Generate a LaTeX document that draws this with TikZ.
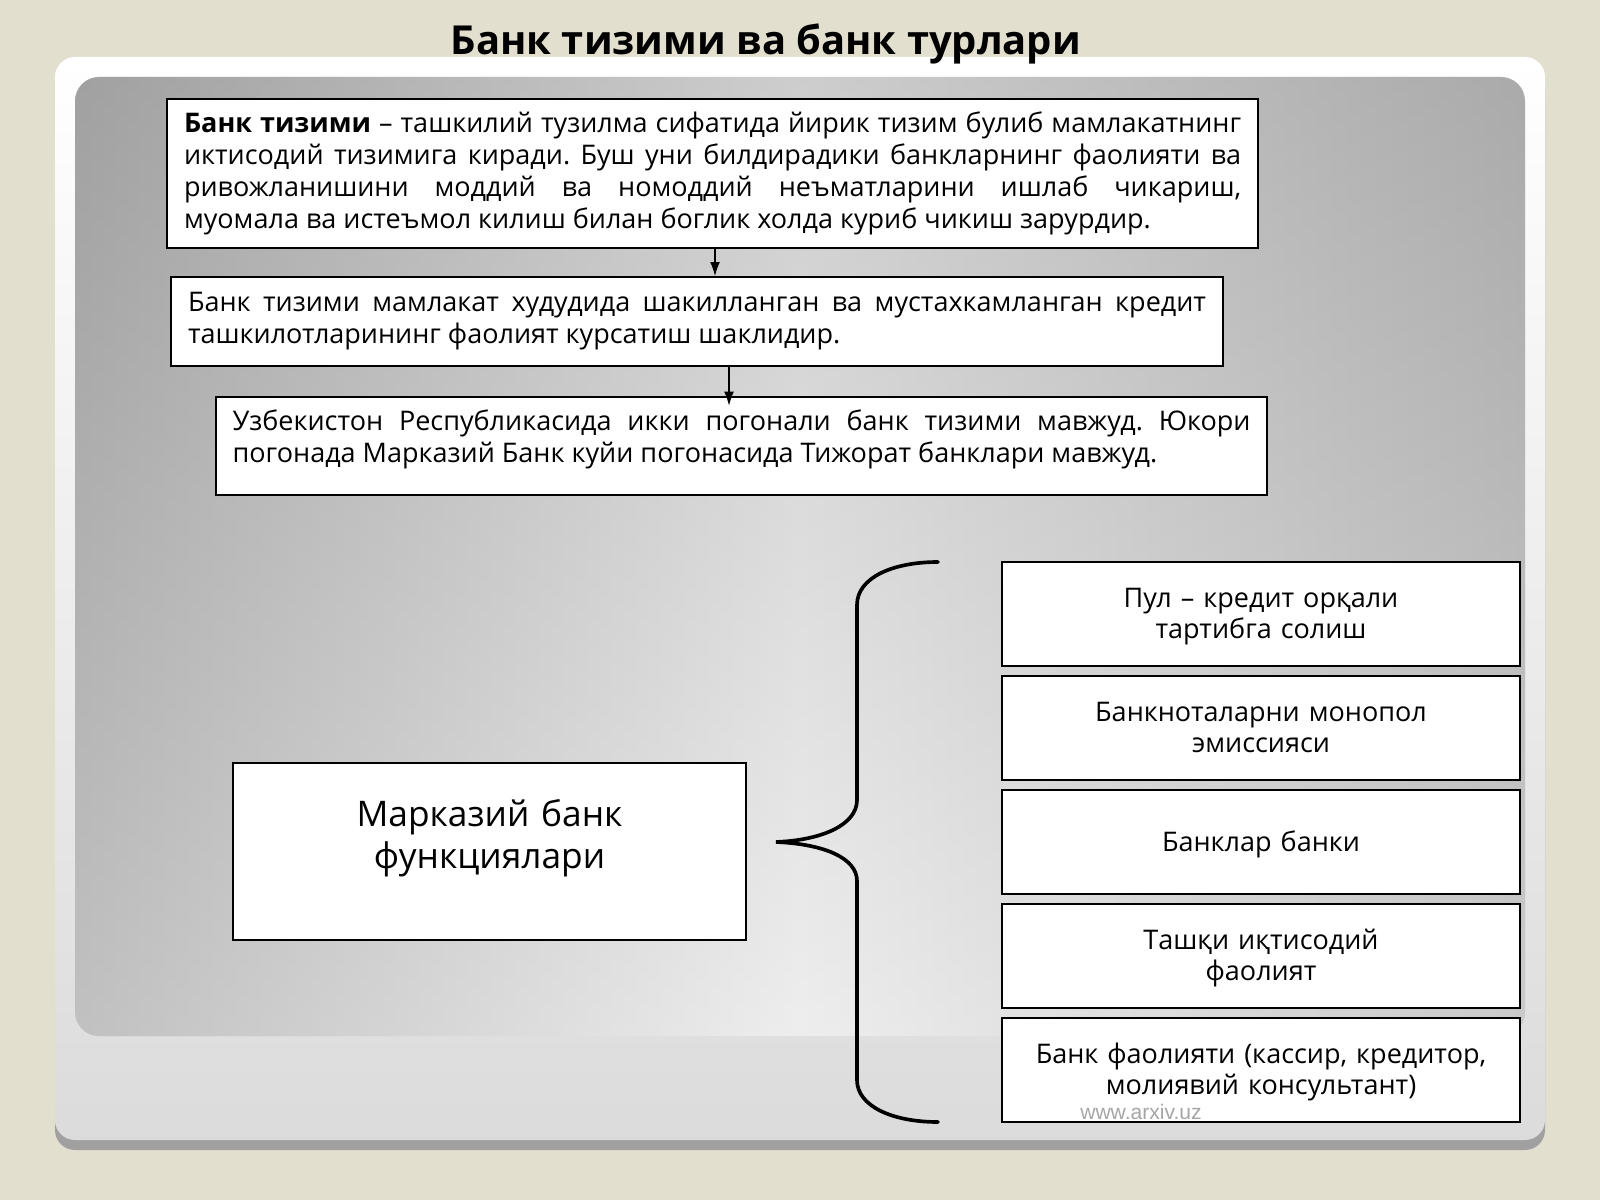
\documentclass[tikz,border=0pt]{standalone}
\usepackage{fontspec}
\setmainfont{Open Sans}
\newfontfamily\markfont{Liberation Sans}
\usetikzlibrary{arrows.meta}
\definecolor{pagebg}{RGB}{226,223,207}
\definecolor{ledge}{RGB}{160,160,160}
\tikzset{
  textbox/.style={draw, line width=1.3pt, fill=white, inner xsep=0.42cm, inner ysep=0pt, align=justify, font=\fontsize{19.2}{22.8}\selectfont},
  mainbox/.style={draw, line width=1.3pt, fill=white, text width=12cm, inner xsep=0.41cm, inner ysep=0pt, align=center, text height=1.575cm, text depth=2.85cm, font=\fontsize{25.1}{30.5}\selectfont},
  funcbox/.style={draw, line width=1.3pt, fill=white, text width=12.1cm, inner xsep=0.425cm, inner ysep=0pt, text height=1.125cm, text depth=1.475cm, align=center, font=\fontsize{19.2}{22.5}\selectfont},
  flow/.style={-{Latex[length=10pt,width=7pt]}, line width=0.9pt}
}

\begin{document}
\frenchspacing
\begin{tikzpicture}
\fill[pagebg] (0,0) rectangle (40,-30);
\useasboundingbox (0,0) rectangle (40,-30);
\fill[ledge, rounded corners=0.5cm] (1.375,-1.7) rectangle (38.625,-28.75);
\shade[top color=white, bottom color=gray!28, rounded corners=0.5cm] (1.375,-1.425) rectangle (38.625,-28.5);
\shade[left color=gray!65, right color=gray!55, middle color=gray!18, rounded corners=0.6cm] (1.875,-1.925) rectangle (38.125,-25.9);
\shade[top color=gray, bottom color=white, opacity=0.25, rounded corners=0.6cm] (1.875,-1.925) rectangle (38.125,-25.9);

\node[anchor=base, font=\fontsize{28.4}{32}\bfseries\selectfont] (title) at (19.15,-1.375) {Банк тизими ва банк турлари};

\node[textbox, text width=26.425cm, minimum height=3.725cm] (banktizimi) at (17.8125,-4.3375) {\textbf{Банк тизими} – ташкилий тузилма сифатида йирик тизим булиб мамлакатнинг\linebreak иктисодий тизимига киради. Буш уни билдирадики банкларнинг фаолияти ва\linebreak ривожланишини моддий ва номоддий неъматларини ишлаб чикариш,\linebreak муомала ва истеъмол килиш билан боглик холда куриб чикиш зарурдир.};
\node[textbox, text width=25.45cm, minimum height=2.225cm] (kredit) at (17.425,-8.0375) {Банк тизими мамлакат худудида шакилланган ва мустахкамланган кредит\linebreak ташкилотларининг фаолият курсатиш шаклидир.};
\node[textbox, text width=25.45cm, text height=0.825cm, text depth=1.625cm] (ikkipogona) at (18.5375,-11.15) {Узбекистон Республикасида икки погонали банк тизими мавжуд. Юкори\linebreak погонада Марказий Банк куйи погонасида Тижорат банклари мавжуд.};

\coordinate (arrowa) at (17.875,0);
\coordinate (arrowb) at (18.225,0);
\draw[flow] (banktizimi.south -| arrowa) -- (kredit.north -| arrowa);
\draw[flow, shorten >=-0.24cm] (kredit.south -| arrowb) -- (ikkipogona.north -| arrowb);

\node[mainbox] (markaziy) at (12.2375,-21.2875) {Марказий банк\\функциялари};

\draw[line width=2.6pt, line cap=round] (23.45,-14.05) .. controls (22.3,-14.05) and (21.425,-14.45) .. (21.425,-15.125) -- (21.425,-20.0) .. controls (21.425,-20.6) and (20.6,-21.0) .. (19.4,-21.05) .. controls (20.6,-21.1) and (21.425,-21.45) .. (21.425,-22.025) -- (21.425,-27.0) .. controls (21.425,-27.65) and (22.3,-28.05) .. (23.45,-28.05);

\node[funcbox] (pulkredit) at (31.525,-15.35) {Пул – кредит орқали\\тартибга солиш};
\node[funcbox] (emissiya) at (31.525,-18.2) {Банкноталарни монопол\\эмиссияси};
\node[funcbox, text height=1.525cm, text depth=1.075cm] (banklarbanki) at (31.525,-21.05) {Банклар банки};
\node[funcbox] (tashqi) at (31.525,-23.9) {Ташқи иқтисодий\\фаолият};
\node[funcbox] (faoliyat) at (31.525,-26.75) {Банк фаолияти (кассир, кредитор,\\молиявий консультант)};

\node[font=\markfont\fontsize{15}{18}\selectfont, text=gray!70] (arxiv) at (28.525,-27.8) {www.arxiv.uz};
\end{tikzpicture}
\end{document}
